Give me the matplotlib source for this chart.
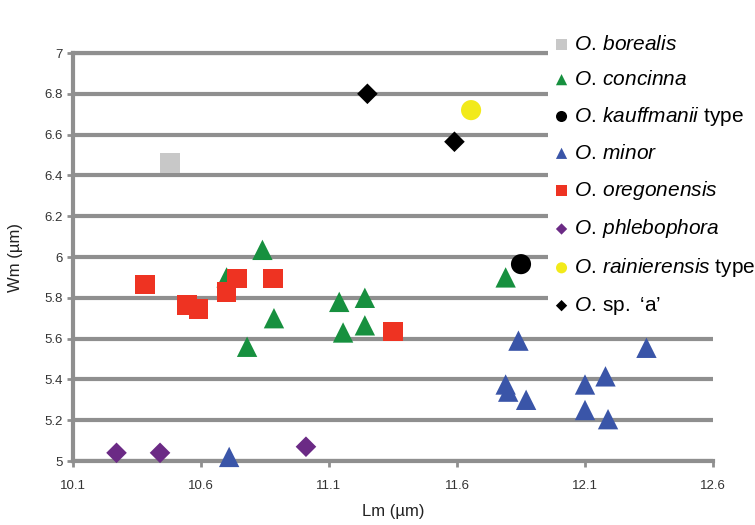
import matplotlib.pyplot as plt

plt.rcParams['font.family'] = ['Liberation Sans', 'DejaVu Sans']
plt.rcParams['mathtext.fontset'] = 'custom'
plt.rcParams['mathtext.rm'] = 'Liberation Sans'
plt.rcParams['mathtext.it'] = 'Liberation Sans:italic'

# datos (Lm, Wm en µm)
borealis_x = [10.48]
borealis_y = [6.46]

concinna_x = [10.70, 10.84, 10.885, 10.78, 11.14, 11.24, 11.155, 11.24, 11.79]
concinna_y = [5.90, 6.035, 5.70, 5.56, 5.78, 5.80, 5.63, 5.665, 5.90]

kauffmanii_x = [11.85]
kauffmanii_y = [5.965]

minor_x = [11.84, 12.34, 11.79, 11.80, 11.87, 12.10, 12.18, 12.10, 12.19, 10.71]
minor_y = [5.59, 5.555, 5.375, 5.34, 5.30, 5.375, 5.415, 5.25, 5.205, 5.02]

oregonensis_x = [10.38, 10.545, 10.59, 10.70, 10.74, 10.88, 11.35]
oregonensis_y = [5.865, 5.765, 5.745, 5.83, 5.895, 5.895, 5.635]

phlebophora_x = [10.27, 10.44, 11.01]
phlebophora_y = [5.04, 5.04, 5.07]

rainierensis_x = [11.655]
rainierensis_y = [6.72]

sp_a_x = [11.25, 11.59]
sp_a_y = [6.80, 6.565]

x_ticks = [10.1, 10.6, 11.1, 11.6, 12.1, 12.6]
y_ticks = [5, 5.2, 5.4, 5.6, 5.8, 6, 6.2, 6.4, 6.6, 6.8, 7]

fig = plt.figure(figsize=(7.55, 5.25), dpi=100)
ax = fig.add_axes([73 / 755, 64 / 525, 640 / 755, 408 / 525])

grey = '#8f8f8f'
series = [
    (borealis_x, borealis_y, 's', 200, '#c8c8c8', r'$\mathit{O.\,borealis}$'),
    (concinna_x, concinna_y, '^', 215, '#17903f', r'$\mathit{O.\,concinna}$'),
    (kauffmanii_x, kauffmanii_y, 'o', 210, 'black', r'$\mathit{O.\,kauffmanii}$ type'),
    (minor_x, minor_y, '^', 215, '#3a55a8', r'$\mathit{O.\,minor}$'),
    (oregonensis_x, oregonensis_y, 's', 200, '#ee3322', r'$\mathit{O.\,oregonensis}$'),
    (phlebophora_x, phlebophora_y, 'D', 110, '#6b2a85', r'$\mathit{O.\,phlebophora}$'),
    (rainierensis_x, rainierensis_y, 'o', 210, '#f2ea1a', r'$\mathit{O.\,rainierensis}$ type'),
    (sp_a_x, sp_a_y, 'D', 110, 'black', r'$\mathit{O.}\,\mathrm{sp.}$ ‘a’'),
]
handles = []
for xs, ys, m, s, c, lab in series:
    h = ax.scatter(xs, ys, marker=m, s=s, color=c, edgecolors='none', label=lab,
                   zorder=3, clip_on=False)
    handles.append(h)

ax.set_xlim(10.1, 12.6)
ax.set_ylim(5, 7)
ax.set_xticks(x_ticks)
ax.set_xticklabels([str(t) for t in x_ticks])
ax.set_yticks(y_ticks)
ax.set_yticklabels(['5', '5.2', '5.4', '5.6', '5.8', '6', '6.2', '6.4', '6.6', '6.8', '7'])
ax.yaxis.grid(True, color=grey, linewidth=3)
ax.set_axisbelow(True)
for side in ['left', 'bottom', 'top']:
    ax.spines[side].set_color(grey)
    ax.spines[side].set_linewidth(3)
ax.spines['right'].set_visible(False)
ax.tick_params(axis='both', colors=grey, width=2, length=4, labelcolor='#333333', labelsize=9.5)
ax.tick_params(axis='x', pad=10)

ax.set_xlabel('Lm (µm)', fontsize=12, color='#222222', labelpad=8)
ax.set_ylabel('Wm (µm)', fontsize=12, color='#222222', labelpad=15)

leg = fig.legend(handles=handles, loc='upper left', bbox_to_anchor=(548 / 755, 1 - 28 / 525),
                 frameon=True, facecolor='white', edgecolor='none', framealpha=1,
                 fontsize=15, markerscale=0.55, handlelength=0.6, handletextpad=0.3,
                 labelspacing=0.76, borderpad=0.35, borderaxespad=0)

fig.savefig('out.png', dpi=100)
